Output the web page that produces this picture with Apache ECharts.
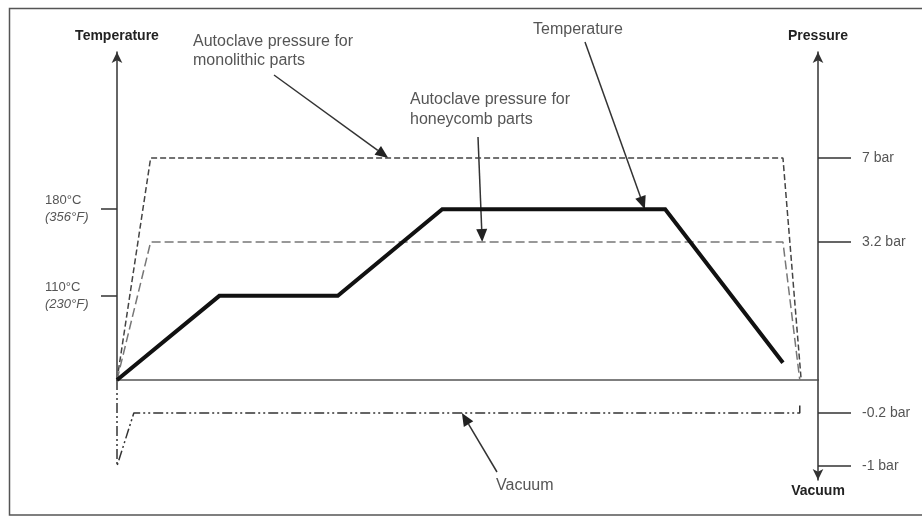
<!DOCTYPE html>
<html>
<head>
<meta charset="utf-8">
<title>Autoclave cure cycle</title>
<script src="https://cdn.jsdelivr.net/npm/echarts@6/dist/echarts.min.js"></script>
<style>
  html, body { margin: 0; padding: 0; background: #fff; }
  #chart { width: 922px; height: 517px; }
</style>
</head>
<body>
<div id="chart"></div>
<script>
// ---- Cure cycle data (schematic time units 0..100) ----
const tempTime   = [0, 14.6, 31.5, 46.4, 78.2, 95.0];
const tempC      = [42, 110, 110, 180, 180, 56];

const monoTime   = [0, 4.8, 95.0, 97.6];
const monoBar    = [0, 7, 7, 0];

const honeyTime  = [0, 4.8, 95.0, 97.4];
const honeyBar   = [0, 3.2, 3.2, 0];

const vacTime    = [0, 0, 2.4, 97.4, 97.4];
const vacBar     = [0, -1, -0.2, -0.2, -0.15];

// ---- Axis ticks ----
const tempTicksC     = [110, 180];
const tempTicksF     = [230, 356];
const pressureTicks  = [7, 3.2];
const vacuumTicks    = [-0.2, -1];

// ---- Annotations: text, label anchor (px) and arrow tip in data coordinates ----
const annotations = [
  { text: 'Autoclave pressure for\nmonolithic parts', grid: 'upper', tip: [38.7, 7] },
  { text: 'Autoclave pressure for\nhoneycomb parts', grid: 'upper', tip: [52.1, 3.2] },
  { text: 'Temperature', grid: 'temp', tip: [75.3, 180] },
  { text: 'Vacuum', grid: 'lower', tip: [49.2, -0.2] }
];
const annotationLayout = [
  { x: 193, y: 32, lineHeight: 19, from: [274, 75] },
  { x: 410, y: 90, lineHeight: 20, from: [478, 137] },
  { x: 533, y: 20, lineHeight: 19, from: [585, 42] },
  { x: 496, y: 476, lineHeight: 19, from: [497, 472] }
];

// The pressure scale of the diagram is schematic: piecewise linear between marked levels.
const pressureScale = { bars: [-1, -0.2, 0, 3.2, 7], levels: [-86, -33, 0, 138, 222] };
function pressureLevel(bar) {
  const b = pressureScale.bars, l = pressureScale.levels;
  let i = 0;
  if (bar <= b[0]) i = 0;
  else if (bar >= b[b.length - 1]) i = b.length - 2;
  else { while (!(bar >= b[i] && bar <= b[i + 1])) i++; }
  return l[i] + (bar - b[i]) * (l[i + 1] - l[i]) / (b[i + 1] - b[i]);
}
function barLabel(level) {
  const all = pressureTicks.concat(vacuumTicks);
  for (const b of all) if (Math.abs(pressureLevel(b) - level) < 1e-6) return b + ' bar';
  return '';
}

const FONT = '"Liberation Sans", Arial, sans-serif';
const AXIS_COLOR = '#333';
const TEXT_COLOR = '#555';

const zip = (xs, ys, f) => xs.map((x, i) => [x, f ? f(ys[i]) : ys[i]]);

const chart = echarts.init(document.getElementById('chart'), null, { renderer: 'canvas' });

const option = {
  backgroundColor: '#fff',
  animation: false,
  textStyle: { fontFamily: FONT },
  grid: [
    { left: 117, right: 104, top: 52, height: 328 },
    { left: 117, right: 104, top: 380, height: 100 }
  ],
  xAxis: [
    {
      gridIndex: 0, type: 'value', min: 0, max: 100,
      axisLine: { show: true, onZero: false, lineStyle: { color: '#555', width: 1.5 } },
      axisTick: { show: false }, axisLabel: { show: false }, splitLine: { show: false }
    },
    {
      gridIndex: 1, type: 'value', min: 0, max: 100, show: false
    }
  ],
  yAxis: [
    {
      gridIndex: 0, type: 'value', position: 'left', min: 42, max: 307,
      name: 'Temperature', nameLocation: 'end', nameGap: 16,
      nameTextStyle: { fontFamily: FONT, fontSize: 14, fontWeight: 'bold', color: '#222',
                       align: 'center', verticalAlign: 'middle' },
      axisLine: { show: true, onZero: false, symbol: ['none', 'arrow'], symbolSize: [8, 11],
                  lineStyle: { color: AXIS_COLOR, width: 1.5 } },
      axisTick: { show: true, inside: false, length: 16, customValues: tempTicksC,
                  lineStyle: { color: AXIS_COLOR, width: 1.5 } },
      axisLabel: {
        show: true, customValues: tempTicksC, margin: 72, align: 'left',
        formatter: v => {
          const i = tempTicksC.indexOf(v);
          return i < 0 ? '' : '{c|' + v + '°C}\n{f|(' + tempTicksF[i] + '°F)}';
        },
        rich: {
          c: { fontFamily: FONT, fontSize: 13, color: TEXT_COLOR, lineHeight: 17 },
          f: { fontFamily: FONT, fontSize: 13, color: TEXT_COLOR, lineHeight: 17, fontStyle: 'italic' }
        }
      },
      splitLine: { show: false }
    },
    {
      gridIndex: 0, type: 'value', position: 'right', min: 0, max: 328,
      name: 'Pressure', nameLocation: 'end', nameGap: 16,
      nameTextStyle: { fontFamily: FONT, fontSize: 14, fontWeight: 'bold', color: '#222',
                       align: 'center', verticalAlign: 'middle' },
      axisLine: { show: true, onZero: false, symbol: ['none', 'arrow'], symbolSize: [8, 11],
                  lineStyle: { color: AXIS_COLOR, width: 1.5 } },
      axisTick: { show: true, inside: false, length: 33, customValues: pressureTicks.map(pressureLevel),
                  lineStyle: { color: AXIS_COLOR, width: 1.5 } },
      axisLabel: { show: true, customValues: pressureTicks.map(pressureLevel), margin: 44,
                   fontFamily: FONT, fontSize: 14, color: TEXT_COLOR, formatter: barLabel },
      splitLine: { show: false }
    },
    {
      gridIndex: 1, type: 'value', position: 'right', min: -100, max: 0,
      name: 'Vacuum', nameLocation: 'start', nameGap: 11,
      nameTextStyle: { fontFamily: FONT, fontSize: 14, fontWeight: 'bold', color: '#222',
                       align: 'center', verticalAlign: 'middle' },
      axisLine: { show: true, onZero: false, symbol: ['arrow', 'none'], symbolSize: [8, 11],
                  lineStyle: { color: AXIS_COLOR, width: 1.5 } },
      axisTick: { show: true, inside: false, length: 33, customValues: vacuumTicks.map(pressureLevel),
                  lineStyle: { color: AXIS_COLOR, width: 1.5 } },
      axisLabel: { show: true, customValues: vacuumTicks.map(pressureLevel), margin: 44,
                   fontFamily: FONT, fontSize: 14, color: TEXT_COLOR, formatter: barLabel },
      splitLine: { show: false }
    }
  ],
  series: [
    {
      name: 'Autoclave pressure for monolithic parts', type: 'line',
      xAxisIndex: 0, yAxisIndex: 1, symbol: 'none', silent: true,
      data: zip(monoTime, monoBar, pressureLevel),
      lineStyle: { color: '#444', width: 1.5, type: [6, 3] }
    },
    {
      name: 'Autoclave pressure for honeycomb parts', type: 'line',
      xAxisIndex: 0, yAxisIndex: 1, symbol: 'none', silent: true,
      data: zip(honeyTime, honeyBar, pressureLevel),
      lineStyle: { color: '#777', width: 1.5, type: [9, 4] }
    },
    {
      name: 'Vacuum', type: 'line',
      xAxisIndex: 1, yAxisIndex: 2, symbol: 'none', silent: true,
      data: zip(vacTime, vacBar, pressureLevel),
      lineStyle: { color: '#333', width: 1.5, type: [10, 3, 2, 3, 2, 3] }
    },
    {
      name: 'Temperature', type: 'line',
      xAxisIndex: 0, yAxisIndex: 0, symbol: 'none', silent: true,
      data: zip(tempTime, tempC),
      lineStyle: { color: '#111', width: 4, join: 'miter', cap: 'butt' }
    }
  ]
};

chart.setOption(option);

// Outer frame, annotation texts and arrows
function arrowGraphics(from, tip) {
  const dx = tip[0] - from[0], dy = tip[1] - from[1];
  const len = Math.sqrt(dx * dx + dy * dy);
  const ux = dx / len, uy = dy / len;
  const head = 13, half = 5.5;
  const bx = tip[0] - ux * head, by = tip[1] - uy * head;
  return [
    { type: 'line', silent: true,
      shape: { x1: from[0], y1: from[1], x2: bx, y2: by },
      style: { stroke: '#333', lineWidth: 1.5 } },
    { type: 'polygon', silent: true,
      shape: { points: [[tip[0], tip[1]], [bx - uy * half, by + ux * half], [bx + uy * half, by - ux * half]] },
      style: { fill: '#222' } }
  ];
}

const graphics = [
  { type: 'rect', silent: true, z: -1,
    shape: { x: 9.5, y: 8.5, width: 930, height: 506.5 },
    style: { fill: 'none', stroke: '#555', lineWidth: 1.5 } }
];
annotations.forEach((a, i) => {
  const lay = annotationLayout[i];
  const finder = a.grid === 'lower' ? { xAxisIndex: 1, yAxisIndex: 2 }
               : a.grid === 'temp'  ? { xAxisIndex: 0, yAxisIndex: 0 }
               : { xAxisIndex: 0, yAxisIndex: 1 };
  const val = a.grid === 'temp' ? a.tip : [a.tip[0], pressureLevel(a.tip[1])];
  const tip = chart.convertToPixel(finder, val);
  graphics.push({
    type: 'text', silent: true,
    style: { x: lay.x, y: lay.y, text: a.text, font: '16px ' + FONT, fill: TEXT_COLOR,
             lineHeight: lay.lineHeight, verticalAlign: 'top', align: 'left' }
  });
  arrowGraphics(lay.from, tip).forEach(g => graphics.push(g));
});
chart.setOption({ graphic: graphics });
</script>
</body>
</html>
